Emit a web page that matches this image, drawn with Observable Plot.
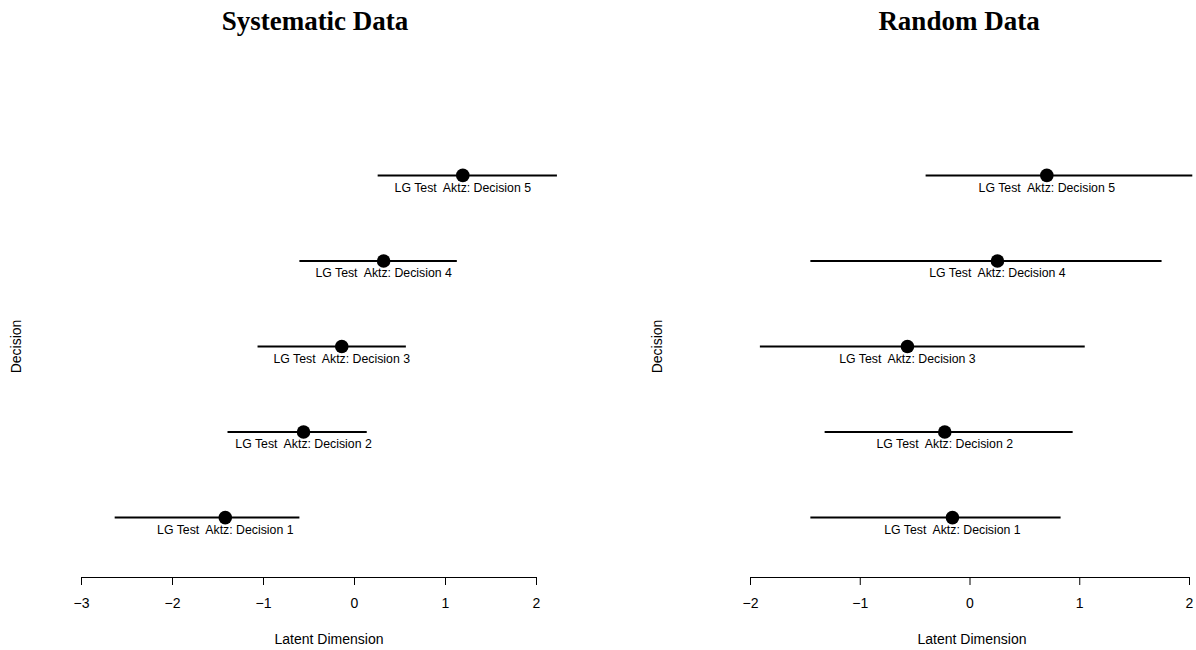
<!DOCTYPE html>
<html>
<head>
<meta charset="utf-8">
<script src="https://cdn.jsdelivr.net/npm/d3@7"></script>
<script src="https://cdn.jsdelivr.net/npm/@observablehq/plot@0.6"></script>
<style>
  html, body { margin: 0; padding: 0; background: #fff; }
  #wrap { display: flex; width: 1196px; height: 650px; }
  svg text { white-space: pre; }
</style>
</head>
<body>
<div id="wrap"></div>
<script>
// ---- data ----
const decisions = [1, 2, 3, 4, 5];
const labels = ["LG Test  Aktz: Decision 1", "LG Test  Aktz: Decision 2", "LG Test  Aktz: Decision 3", "LG Test  Aktz: Decision 4", "LG Test  Aktz: Decision 5"];

const sysMean = [-1.42, -0.56, -0.14, 0.32, 1.19];
const sysLo   = [-2.63, -1.39, -1.06, -0.60, 0.26];
const sysHi   = [-0.60, 0.14, 0.57, 1.13, 2.23];

const randMean = [-0.16, -0.23, -0.57, 0.25, 0.70];
const randLo   = [-1.45, -1.32, -1.91, -1.45, -0.40];
const randHi   = [0.83, 0.94, 1.05, 1.75, 2.03];

const sysTicks = [-3, -2, -1, 0, 1, 2];
const randTicks = [-2, -1, 0, 1, 2];

const titles = ["Systematic Data", "Random Data"];
const xLabel = "Latent Dimension";
const yLabel = "Decision";

function rows(mean, lo, hi) {
  return decisions.map((d, i) => ({decision: d, mean: mean[i], lo: lo[i], hi: hi[i], label: labels[i]}));
}

function panel(title, data, ticks, o) {
  return Plot.plot({
    width: 598,
    height: 650,
    marginTop: 115,
    marginBottom: 73,
    marginLeft: o.marginLeft,
    marginRight: o.marginRight,
    style: {fontFamily: "'Liberation Sans', Arial, Helvetica, sans-serif", fontSize: "14px", background: "white", color: "black"},
    x: {domain: [d3.min(ticks), d3.max(ticks)]},
    y: {domain: [0.3, 5.7], axis: null},
    marks: [
      Plot.ruleY([0.3], {x1: d3.min(ticks), x2: d3.max(ticks), stroke: "black", strokeWidth: 1}),
      Plot.axisX(ticks, {tickSize: 8, tickPadding: 13, fontSize: 14, label: null, stroke: "black", fill: "black"}),
      Plot.ruleY(data, {y: "decision", x1: "lo", x2: "hi", stroke: "black", strokeWidth: 2}),
      Plot.dot(data, {x: "mean", y: "decision", r: 6.8, fill: "black", stroke: null}),
      Plot.text(data, {x: "mean", y: "decision", text: "label", dy: 12.5, fontSize: 12.3, fill: "black"}),
      Plot.text([xLabel], {frameAnchor: "bottom", lineAnchor: "middle", textAnchor: "middle", dy: 62, dx: o.xLabelDx, fontSize: 14, fill: "black"}),
      Plot.text([yLabel], {frameAnchor: "left", lineAnchor: "middle", textAnchor: "middle", dx: o.yLabelDx, rotate: -90, fontSize: 14, fill: "black"}),
      Plot.text([title], {frameAnchor: "top", lineAnchor: "middle", textAnchor: "middle", dy: -94.5, dx: o.titleDx, fontSize: 27, fontWeight: "bold", fontFamily: "'Liberation Serif', 'Times New Roman', serif", fill: "black"})
    ]
  });
}

const wrap = document.getElementById("wrap");
wrap.appendChild(panel(titles[0], rows(sysMean, sysLo, sysHi), sysTicks,
  {marginLeft: 81, marginRight: 62, yLabelDx: -65, xLabelDx: 20, titleDx: 6}));
wrap.appendChild(panel(titles[1], rows(randMean, randLo, randHi), randTicks,
  {marginLeft: 152, marginRight: 7, yLabelDx: -93, xLabelDx: 2, titleDx: -11}));
</script>
</body>
</html>
